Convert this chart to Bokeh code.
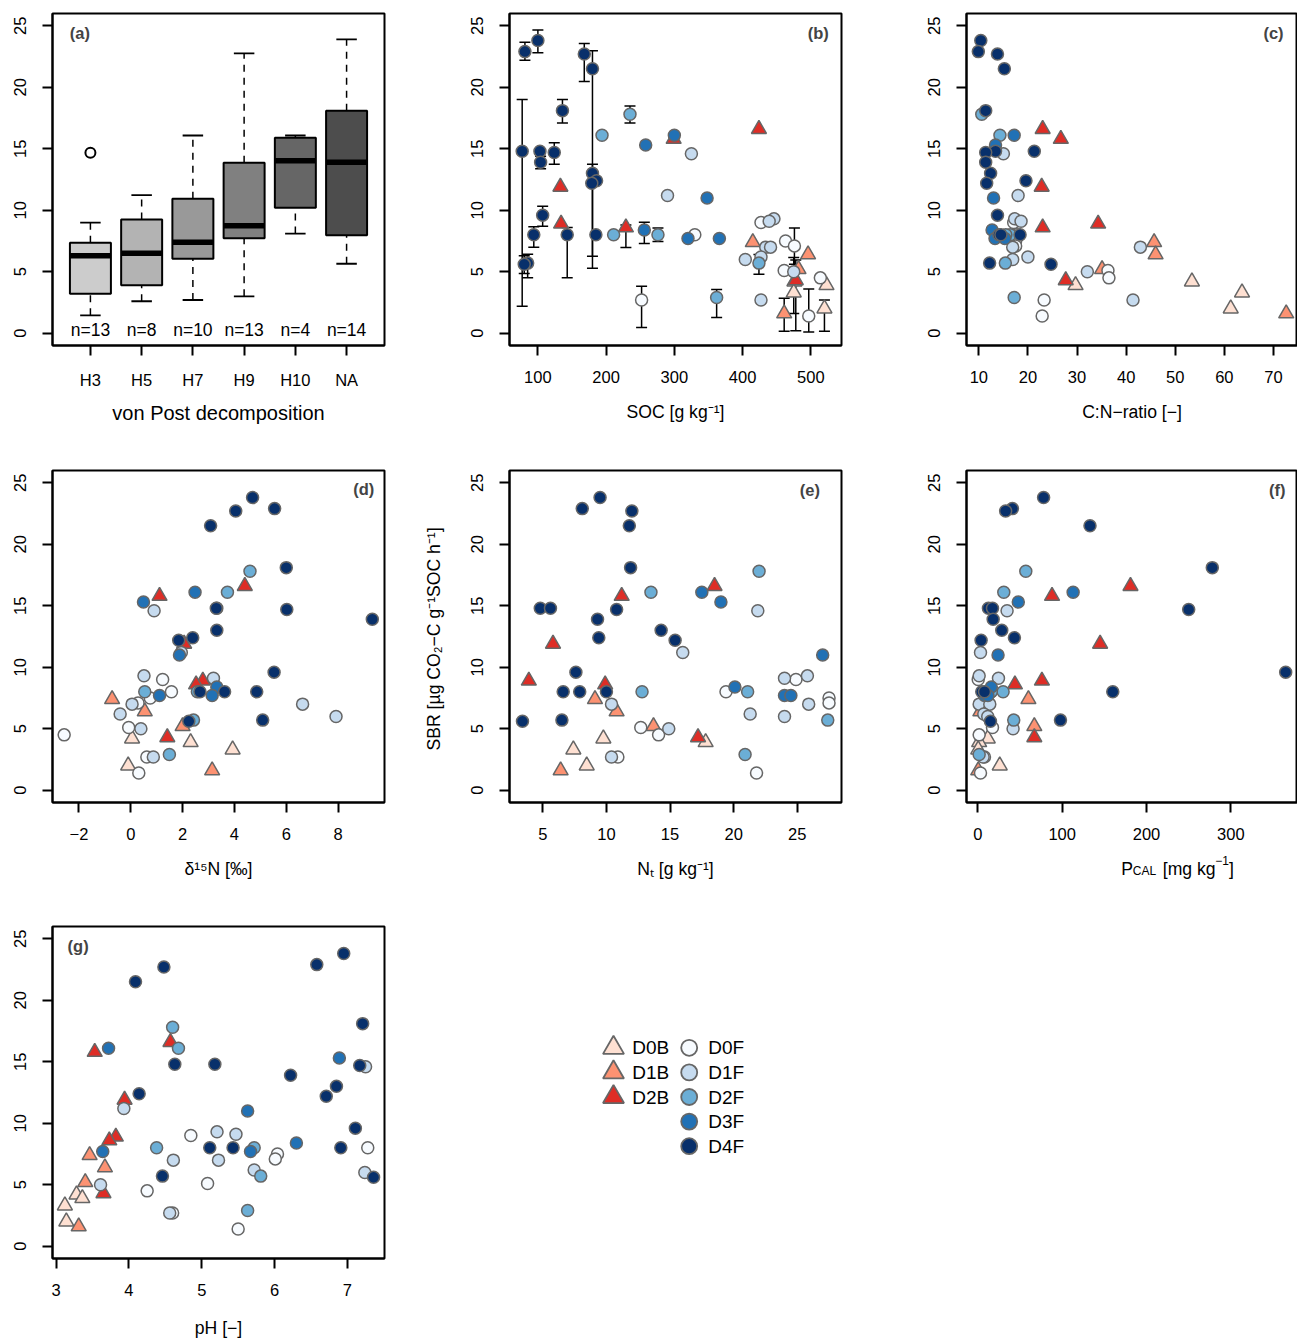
import numpy as np
from bokeh.plotting import figure
from bokeh.layouts import row, column
from bokeh.models import ColumnDataSource, Range1d, FixedTicker, Label, Whisker, TeeHead
from bokeh.core.properties import value
from bokeh.embed import file_html
from bokeh.resources import INLINE

FONT = "Liberation Sans"
OUTLINE = "#666666"

# ---- panel (a): SBR by von Post decomposition class (box statistics)
vp_class = ["H3", "H5", "H7", "H9", "H10", "NA"]
vp_n = [13, 8, 10, 13, 4, 14]
vp_lo = [1.45, 2.6, 2.7, 3.0, 8.1, 5.65]
vp_q1 = [3.2, 3.9, 6.05, 7.73, 10.2, 7.97]
vp_med = [6.29, 6.5, 7.4, 8.73, 14.02, 13.91]
vp_q3 = [7.35, 9.25, 10.93, 13.86, 15.89, 18.09]
vp_hi = [9.0, 11.23, 16.08, 22.75, 16.08, 23.89]
vp_fill = ["#CCCCCC", "#B3B3B3", "#999999", "#808080", "#666666", "#4D4D4D"]
out_class = ["H3"]
out_sbr = [14.67]

# ---- samples (groups in drawing order)
group_names = ["D0B", "D1B", "D2B", "D0F", "D1F", "D2F", "D3F", "D4F"]
group_colors = ["#FEE0D2", "#FC9272", "#DE2D26", "#F7FBFF", "#C6DBEF", "#6BAED6", "#2171B5", "#08306B"]
group = (["D0B"] * 4 + ["D1B"] * 4 + ["D2B"] * 6 + ["D0F"] * 8 +
         ["D1F"] * 10 + ["D2F"] * 6 + ["D3F"] * 6 + ["D4F"] * 18)

# soil basal respiration [ug CO2-C g-1 SOC h-1]
sbr = [4.2, 3.9, 3.3, 2.0,
       7.4, 6.4, 5.2, 1.6,
       16.6, 15.8, 11.9, 8.9, 8.6, 4.3,
       9.0, 8.0, 7.5, 7.1, 5.1, 4.5, 2.7, 1.4,
       14.6, 11.2, 9.3, 9.1, 7.0, 7.0, 6.2, 6.0, 5.0, 2.7,
       17.8, 16.1, 8.0, 8.0, 5.7, 2.9,
       16.1, 15.3, 11.0, 8.4, 7.7, 7.7,
       23.8, 22.9, 22.7, 21.5, 18.1, 14.8, 14.8, 14.7, 13.9, 13.0, 12.4, 12.2, 9.6, 8.0, 8.0, 8.0, 5.7, 5.6]

soc = [476, 523, 475, 520,
       415, 496, 482, 461,
       424, 299, 133, 134, 229, 478,
       427, 330, 463, 476, 461, 514, 252, 497,
       325, 290, 446, 439, 434, 441, 427, 404, 475, 427,
       235, 194, 211, 276, 424, 362,
       300, 258, 348, 256, 320, 366,
       100, 81, 168, 180, 136, 77, 103, 124, 104, 180, 186, 179, 107, 94, 143, 185, 85, 80]

cn = [53.4, 29.7, 63.6, 61.3,
      45.7, 46.0, 35.1, 72.6,
      23.0, 26.7, 22.8, 34.3, 23.0, 27.7,
      17.1, 17.7, 17.5, 17.5, 36.3, 36.5, 23.3, 22.9,
      15.0, 18.0, 17.3, 18.6, 16.9, 42.9, 20.0, 16.9, 32.1, 41.4,
      10.6, 14.3, 16.4, 15.5, 15.4, 17.2,
      17.2, 13.4, 13.0, 12.7, 13.3, 15.3,
      10.4, 9.9, 13.8, 15.2, 11.4, 13.4, 21.3, 11.4, 11.4, 12.4, 19.6, 11.6, 13.8, 14.1, 18.4, 14.5, 12.2, 24.7]

d15n = [0.05, 2.31, 3.93, -0.1,
        -0.72, 0.54, 2.0, 3.14,
        4.40, 1.11, 2.06, 2.78, 2.52, 1.41,
        1.23, 1.57, 0.75, 0.28, -0.08, -2.57, 0.62, 0.31,
        0.90, 1.95, 0.51, 3.19, 0.05, 6.63, -0.41, 7.92, 0.39, 0.87,
        4.60, 3.73, 0.54, 2.57, 2.42, 1.49,
        2.48, 0.49, 1.88, 3.32, 1.11, 3.14,
        4.70, 5.55, 4.05, 3.08, 6.00, 3.32, 3.30, 6.02, 9.32, 3.32, 2.39, 1.85, 5.53, 2.67, 3.62, 4.86, 5.09, 2.24]

nt = [9.76, 17.8, 7.4, 8.45,
      9.1, 10.8, 13.7, 6.4,
      18.5, 11.2, 5.8, 3.9, 9.9, 17.2,
      24.9, 19.4, 27.5, 27.5, 12.7, 14.1, 10.9, 21.8,
      21.9, 16.0, 25.8, 24.0, 10.4, 25.9, 21.3, 24.0, 14.9, 10.4,
      22.0, 13.5, 12.8, 21.1, 27.4, 20.9,
      17.5, 19.0, 27.0, 20.1, 24.0, 24.5,
      9.5, 8.1, 12.0, 11.8, 11.9, 4.8, 5.6, 10.8, 9.3, 14.3, 9.4, 15.4, 7.6, 6.6, 7.9, 10.0, 6.5, 3.4]

pcal = [11.8, 1.6, 0.5, 26,
        60, 3, 67, 0.5,
        181, 88, 145, 76, 44, 67,
        0.5, 15.8, 11, 4.7, 17.4, 1.6, 7.9, 3.2,
        34.7, 3.2, 1.6, 24.5, 1.6, 14.2, 7.1, 11.8, 41.8, 6.3,
        56.9, 30.8, 30, 16, 42.6, 1.6,
        113, 48, 24, 16, 8, 12,
        78, 41, 33, 133, 278, 12.6, 17.4, 250, 18.2, 28.4, 43.4, 3.9, 365, 4.7, 160, 7.9, 98, 15]

ph = [3.28, 3.36, 3.12, 3.14,
      3.46, 3.67, 3.40, 3.31,
      4.57, 3.53, 3.94, 3.82, 3.73, 3.65,
      4.85, 7.28, 6.04, 6.01, 5.08, 4.25, 4.60, 5.50,
      7.25, 3.93, 5.21, 5.47, 4.61, 5.23, 5.72, 7.24, 3.61, 4.56,
      4.60, 4.68, 4.38, 5.72, 5.81, 5.63,
      3.72, 6.89, 5.63, 6.30, 5.67, 3.64,
      6.95, 6.58, 4.48, 4.09, 7.21, 5.18, 4.63, 7.17, 6.22, 6.85, 4.14, 6.71, 7.11, 5.11, 5.43, 6.91, 4.46, 7.36]

# SBR error bars in panel (b)
err_soc = [100, 81, 168, 180, 136, 77, 124, 104, 180, 107, 94, 143, 85, 80,
           235, 276, 424, 362, 256, 229, 252,
           476, 475, 478, 475, 461, 497, 520]
err_lo = [22.8, 22.2, 20.47, 5.29, 17.1, 2.2, 13.75, 13.37, 6.26, 8.7, 7.0, 4.5, 4.5, 4.85,
          17.1, 7.46, 4.8, 1.27, 7.3, 6.97, 0.46,
          5.6, 4.0, 0.2, 1.6, 0.15, 0.1, 0.15]
err_hi = [24.65, 23.67, 23.56, 22.97, 19.0, 19.0, 15.48, 14.4, 13.75, 10.33, 8.65, 8.6, 6.43, 6.3,
          18.47, 8.55, 6.4, 3.55, 9.03, 8.8, 3.82,
          8.55, 6.15, 5.95, 4.9, 2.85, 3.6, 2.7]

for arr in (sbr, soc, cn, d15n, nt, pcal, ph):
    assert len(arr) == len(group), len(arr)

color_of = dict(zip(group_names, group_colors))
src = ColumnDataSource(dict(
    sbr=sbr, soc=soc, cn=cn, d15n=d15n, nt=nt, pcal=pcal, ph=ph,
    color=[color_of[g] for g in group],
    marker=["triangle" if g.endswith("B") else "circle" for g in group],
    size=[15 if g.endswith("B") else 12 for g in group],
))


def base_fig(x0, x1, left, right, top, bottom, fw=332):
    p = figure(frame_width=fw, frame_height=332, x_range=Range1d(x0, x1), y_range=Range1d(-1, 26),
               toolbar_location=None, output_backend="svg",
               min_border_left=left, min_border_right=right, min_border_top=top, min_border_bottom=bottom)
    p.outline_line_color = "black"
    p.outline_line_width = 2
    p.grid.visible = False
    for ax in p.axis:
        ax.axis_line_width = 2
        ax.major_tick_line_width = 2
        ax.major_tick_in = 0
        ax.major_tick_out = 10
        ax.minor_tick_line_color = None
        ax.major_label_text_font = FONT
        ax.major_label_text_font_size = "16.5px"
        ax.major_label_text_color = "black"
        ax.axis_label_text_font = FONT
        ax.axis_label_text_font_style = "normal"
        ax.axis_label_text_font_size = "17.6px"
        ax.axis_label_text_color = "black"
    p.xaxis.major_label_standoff = 15
    p.yaxis.major_label_standoff = 16
    p.yaxis.ticker = FixedTicker(ticks=[0, 5, 10, 15, 20, 25])
    p.yaxis.major_label_orientation = "vertical"
    p.xaxis.axis_label_standoff = 16
    return p


def tag(p, text, x, y):
    p.add_layout(Label(x=x, y=y, x_units="screen", y_units="screen", text=text,
                       text_font=FONT, text_font_style="bold", text_font_size="16.5px",
                       text_align="center", text_baseline="middle"))


def scatter_panel(col, x0, x1, ticks, left, right, top, bottom, fw=332, xlabel=None):
    p = base_fig(x0, x1, left, right, top, bottom, fw)
    p.scatter(x=col, y="sbr", source=src, marker="marker", size="size",
              fill_color="color", line_color=OUTLINE, line_width=1.5)
    p.xaxis.ticker = FixedTicker(ticks=ticks)
    if xlabel:
        p.xaxis.axis_label = xlabel
    return p


# ---- row 1
pa = base_fig(0.26, 6.74, 52, 33, 13, 120)
pos = np.arange(1, len(vp_class) + 1)
pa.segment(x0=pos, y0=vp_q3, x1=pos, y1=vp_hi, line_color="black", line_width=1.5, line_dash="7 6")
pa.segment(x0=pos, y0=vp_lo, x1=pos, y1=vp_q1, line_color="black", line_width=1.5, line_dash="7 6")
pa.segment(x0=pos - 0.2, y0=vp_hi, x1=pos + 0.2, y1=vp_hi, line_color="black", line_width=1.8)
pa.segment(x0=pos - 0.2, y0=vp_lo, x1=pos + 0.2, y1=vp_lo, line_color="black", line_width=1.8)
pa.vbar(x=pos, width=0.8, bottom=vp_q1, top=vp_q3, fill_color=vp_fill, line_color="black", line_width=2)
pa.segment(x0=pos - 0.4, y0=vp_med, x1=pos + 0.4, y1=vp_med, line_color="black", line_width=5.5, line_cap="butt")
pa.scatter(x=[vp_class.index(c) + 1 for c in out_class], y=out_sbr, marker="circle", size=10,
           fill_color=None, line_color="black", line_width=2)
pa.text(x=pos, y=[0.3] * len(pos), text=["n=%d" % n for n in vp_n], text_font=value(FONT),
        text_font_size="17.5px", text_align="center", text_baseline="middle", text_color="black")
pa.xaxis.ticker = FixedTicker(ticks=list(pos))
pa.xaxis.major_label_overrides = {int(i): c for i, c in zip(pos, vp_class)}
pa.xaxis.axis_label = "von Post decomposition"
pa.xaxis.axis_label_text_font_size = "20px"
pa.xaxis.axis_label_standoff = 10
tag(pa, "(a)", 27.3, 312.7)

pb = scatter_panel("soc", 58.4, 545, [100, 200, 300, 400, 500], 92, 81, 13, 120, xlabel="SOC [g kg⁻¹]")
pb.add_layout(Whisker(source=ColumnDataSource(dict(base=err_soc, lower=err_lo, upper=err_hi)),
                      base="base", lower="lower", upper="upper", dimension="height",
                      line_color="black", line_width=1.5,
                      upper_head=TeeHead(size=11, line_width=1.5, line_color="black"),
                      lower_head=TeeHead(size=11, line_width=1.5, line_color="black")))
tag(pb, "(b)", 308.7, 312.7)

pc = scatter_panel("cn", 7.49, 74.9, [10, 20, 30, 40, 50, 60, 70], 44, 0, 13, 120, fw=331,
                   xlabel="C:N−ratio [−]")
tag(pc, "(c)", 307, 312.7)

# ---- row 2
pd_ = scatter_panel("d15n", -3.02, 9.79, [-2, 0, 2, 4, 6, 8], 52, 33, 5, 120, xlabel="δ¹⁵N [‰]")
pd_.xaxis.major_label_overrides = {-2: "−2"}
tag(pd_, "(d)", 311.3, 313.4)

pe = scatter_panel("nt", 2.38, 28.48, [5, 10, 15, 20, 25], 92, 81, 5, 120, xlabel="Nₜ [g kg⁻¹]")
pe.yaxis.axis_label = "SBR [µg CO₂−C  g⁻¹SOC h⁻¹]"
pe.yaxis.axis_label_standoff = 25
tag(pe, "(e)", 300.3, 312.7)

pf = scatter_panel("pcal", -13.4, 379, [0, 100, 200, 300], 44, 0, 5, 50, fw=331)
tag(pf, "(f)", 310.7, 312.7)

# x label of (f) with sub- and superscript, set in a strip under the panel
plab = figure(frame_width=375, frame_height=70, x_range=Range1d(0, 375), y_range=Range1d(0, 70),
              toolbar_location=None, output_backend="svg", min_border=0)
plab.axis.visible = False
plab.grid.visible = False
plab.outline_line_color = None
pcal_parts = ["P", "CAL", "[mg kg", "−1", "]"]
pcal_x = [154.7, 166.3, 196.3, 248.7, 262.5]
pcal_y = [53.3, 51.7, 53.3, 61.7, 53.3]
pcal_fs = ["17.6px", "12px", "17.6px", "12px", "17.6px"]
plab.text(x=pcal_x, y=pcal_y, text=pcal_parts, text_font=value(FONT), text_font_size=pcal_fs,
          text_align="left", text_baseline="alphabetic", text_color="black")

# ---- row 3
pg = scatter_panel("ph", 2.95, 7.51, [3, 4, 5, 6, 7], 52, 33, 4, 81, xlabel="pH [−]")
pg.xaxis.axis_label_standoff = 19
tag(pg, "(g)", 25.6, 313)

# legend panel
leg_w, leg_h = 880, 417
pl = figure(frame_width=leg_w, frame_height=leg_h, x_range=Range1d(0, leg_w), y_range=Range1d(0, leg_h),
            toolbar_location=None, output_backend="svg", min_border=0)
pl.axis.visible = False
pl.grid.visible = False
pl.outline_line_color = None
leg_top, leg_step = 295.7, 24.6
tri = group_names[:3]
cir = group_names[3:]
pl.scatter(x=[196] * len(tri), y=[leg_top - i * leg_step for i in range(len(tri))], marker="triangle",
           size=21, fill_color=group_colors[:3], line_color=OUTLINE, line_width=1.8)
pl.text(x=[214.7] * len(tri), y=[leg_top - i * leg_step for i in range(len(tri))], text=tri,
        text_font=value(FONT), text_font_size="19px", text_baseline="middle", text_color="black")
pl.scatter(x=[271.7] * len(cir), y=[leg_top - i * leg_step for i in range(len(cir))], marker="circle",
           size=16, fill_color=group_colors[3:], line_color=OUTLINE, line_width=1.8)
pl.text(x=[290.7] * len(cir), y=[leg_top - i * leg_step for i in range(len(cir))], text=cir,
        text_font=value(FONT), text_font_size="19px", text_baseline="middle", text_color="black")

layout = column(row(pa, pb, pc), row(pd_, pe, column(pf, plab)), row(pg, pl))
open("out.html", "w").write(file_html(layout, INLINE))
